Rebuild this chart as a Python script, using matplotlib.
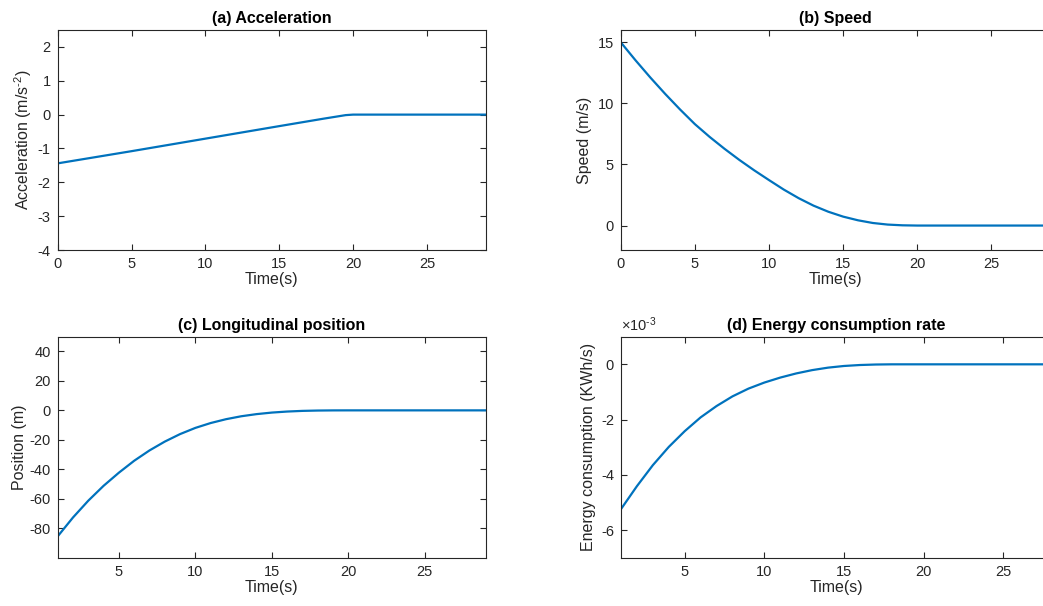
import matplotlib
matplotlib.use("Agg")
import matplotlib.pyplot as plt
from matplotlib.ticker import FuncFormatter

plt.rcParams['font.family'] = ['Liberation Sans', 'DejaVu Sans']
plt.rcParams['axes.unicode_minus'] = False
plt.rcParams['mathtext.fontset'] = 'custom'
plt.rcParams['mathtext.rm'] = 'Liberation Sans'
plt.rcParams['mathtext.it'] = 'Liberation Sans'

LINE = '#0072BD'
DARK = '#262626'

# (a) Acceleration
t_acc = [0, 5, 10, 15, 18, 19, 19.5, 20, 29]
acc = [-1.44, -1.08, -0.71, -0.34, -0.12, -0.05, -0.015, 0, 0]

# (b) Speed
t_spd = [0, 1, 2, 3, 4, 5, 6, 7, 8, 9, 10, 11, 12, 13, 14, 15, 16, 17, 18, 19, 20, 29]
spd = [15, 13.52, 12.11, 10.77, 9.50, 8.30, 7.25, 6.28, 5.37, 4.52, 3.72, 2.94, 2.24,
       1.63, 1.13, 0.73, 0.43, 0.21, 0.08, 0.02, 0, 0]

# (c) Longitudinal position
t_pos = [1, 2, 3, 4, 5, 6, 7, 8, 9, 10, 11, 12, 13, 14, 15, 16, 17, 18, 19, 20, 29]
pos = [-85.5, -72.7, -61.3, -51.2, -42.3, -34.2, -27.2, -21.2, -16.1, -11.9, -8.6, -6.0,
       -4.0, -2.55, -1.5, -0.8, -0.35, -0.12, -0.02, 0, 0]

# (d) Energy consumption rate (KWh/s)
t_eng = [1, 2, 3, 4, 5, 6, 7, 8, 9, 10, 11, 12, 13, 14, 15, 16, 17, 18, 28]
eng = [-5.24e-3, -4.41e-3, -3.65e-3, -2.99e-3, -2.42e-3, -1.92e-3, -1.51e-3, -1.16e-3,
       -0.88e-3, -0.66e-3, -0.48e-3, -0.33e-3, -0.21e-3, -0.12e-3, -0.06e-3, -0.025e-3,
       -0.007e-3, 0, 0]

W, H = 1043, 606
fig = plt.figure(figsize=(W / 100, H / 100), dpi=100)


def px_axes(x0, y0, x1, y1):
    return fig.add_axes([x0 / W, 1 - y1 / H, (x1 - x0) / W, (y1 - y0) / H])


def style(ax):
    for s in ax.spines.values():
        s.set_color(DARK)
        s.set_linewidth(0.8)
    ax.tick_params(direction='in', length=4.5, width=0.8, colors=DARK,
                   top=True, right=True, labelsize=10.5, pad=5)


TITLE = dict(fontsize=11.5, fontweight='bold', pad=5, color='black')
LAB = dict(fontsize=11.5, color=DARK)

axA = px_axes(57.7, 30, 486, 250)
axA.plot(t_acc, acc, color=LINE, lw=1.6)
axA.set_xlim(0, 29)
axA.set_ylim(-4, 2.5)
axA.set_xticks([0, 5, 10, 15, 20, 25])
axA.set_yticks([-4, -3, -2, -1, 0, 1, 2])
axA.set_title('(a) Acceleration', **TITLE)
axA.set_xlabel('Time(s)', labelpad=1, **LAB)
axA.set_ylabel('Acceleration (m/s$^{\\text{-2}}$)', labelpad=3, **LAB)
style(axA)

axB = px_axes(620.7, 30, 1050.8, 250)
axB.plot(t_spd, spd, color=LINE, lw=1.6)
axB.set_xlim(0, 29)
axB.set_ylim(-2, 16)
axB.set_xticks([0, 5, 10, 15, 20, 25])
axB.set_yticks([0, 5, 10, 15])
axB.set_title('(b) Speed', **TITLE)
axB.set_xlabel('Time(s)', labelpad=1, **LAB)
axB.set_ylabel('Speed (m/s)', labelpad=4, **LAB)
style(axB)

axC = px_axes(57.7, 336.7, 486, 557.7)
axC.plot(t_pos, pos, color=LINE, lw=1.6)
axC.set_xlim(1, 29)
axC.set_ylim(-100, 50)
axC.set_xticks([5, 10, 15, 20, 25])
axC.set_yticks([-80, -60, -40, -20, 0, 20, 40])
axC.set_title('(c) Longitudinal position', **TITLE)
axC.set_xlabel('Time(s)', labelpad=1, **LAB)
axC.set_ylabel('Position (m)', labelpad=2, **LAB)
style(axC)

axD = px_axes(621, 336.7, 1051, 557.7)
axD.plot(t_eng, eng, color=LINE, lw=1.6)
axD.set_xlim(1, 28)
axD.set_ylim(-7e-3, 1e-3)
axD.set_xticks([5, 10, 15, 20, 25])
axD.set_yticks([-6e-3, -4e-3, -2e-3, 0])
axD.yaxis.set_major_formatter(FuncFormatter(lambda v, p: f"{round(v * 1e3):d}"))
axD.text(0.0, 1.012, '$\\times$10$^{\\text{-3}}$', transform=axD.transAxes,
         fontsize=10.5, color=DARK, ha='left', va='bottom')
axD.set_title('(d) Energy consumption rate', **TITLE)
axD.set_xlabel('Time(s)', labelpad=1, **LAB)
axD.set_ylabel('Energy consumption (KWh/s)', labelpad=4, **LAB)
style(axD)

fig.savefig('out.png', dpi=100)
